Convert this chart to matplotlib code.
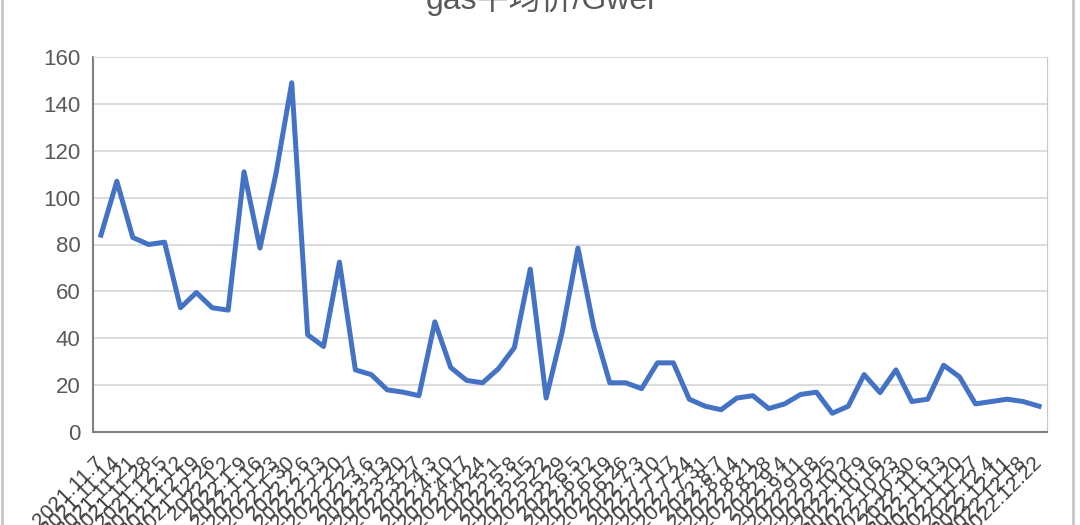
import matplotlib
matplotlib.use('Agg')
from matplotlib import pyplot as plt
from matplotlib.lines import Line2D

plt.rcParams['font.family'] = ['Liberation Sans', 'Noto Sans CJK SC', 'DejaVu Sans']

# 周数据 gas 价格
dates = ['2021.11.7', '2021.11.14', '2021.11.21', '2021.11.28', '2021.12.5',
         '2021.12.12', '2021.12.19', '2021.12.26', '2022.1.2', '2022.1.9',
         '2022.1.16', '2022.1.23', '2022.1.30', '2022.2.6', '2022.2.13',
         '2022.2.20', '2022.2.27', '2022.3.6', '2022.3.13', '2022.3.20',
         '2022.3.27', '2022.4.3', '2022.4.10', '2022.4.17', '2022.4.24',
         '2022.5.1', '2022.5.8', '2022.5.15', '2022.5.22', '2022.5.29',
         '2022.6.5', '2022.6.12', '2022.6.19', '2022.6.26', '2022.7.3',
         '2022.7.10', '2022.7.17', '2022.7.24', '2022.7.31', '2022.8.7',
         '2022.8.14', '2022.8.21', '2022.8.28', '2022.9.4', '2022.9.11',
         '2022.9.18', '2022.9.25', '2022.10.2', '2022.10.9', '2022.10.16',
         '2022.10.23', '2022.10.30', '2022.11.6', '2022.11.13', '2022.11.20',
         '2022.11.27', '2022.12.4', '2022.12.11', '2022.12.18', '2022.12.22']
gas = [84, 107, 83, 80, 81, 53, 59.5, 53, 52, 111,
       78.5, 110, 149, 41.5, 36.5, 72.5, 26.5, 24.5, 18, 17,
       15.5, 47, 27.5, 22, 21, 27, 36, 69.5, 14.5, 42.5,
       78.5, 44.5, 21, 21, 18.5, 29.5, 29.5, 14, 11, 9.5,
       14.5, 15.5, 10, 12, 16, 17, 8, 11, 24.5, 16.8,
       26.5, 13, 14, 28.5, 23.5, 12, 13, 14, 13, 11]
title = 'gas平均价/Gwei'

fig = plt.figure(figsize=(10.8, 5.25), dpi=100)
ax = fig.add_axes([93 / 1080, 1 - 432 / 525, (1047 - 93) / 1080, (432 - 57) / 525])

x = list(range(len(gas)))
ax.plot(x, gas, color='#4472C4', linewidth=3.6, solid_joinstyle='round')

ax.set_xlim(-0.5, len(gas) - 0.5)
ax.set_ylim(0, 160)
ax.set_yticks(range(0, 161, 20))
ax.yaxis.grid(True, color='#d9d9d9', linewidth=1.3)
ax.set_axisbelow(True)

ax.set_xticks(x)
ax.set_xticklabels(dates, rotation=45, ha='right', va='center',
                   rotation_mode='anchor', fontsize=15, color='#404040')
ax.tick_params(axis='x', length=0, pad=20)
ax.tick_params(axis='y', length=0, pad=9, labelsize=16, labelcolor='#595959')

ax.spines['left'].set_color('#7f7f7f')
ax.spines['bottom'].set_color('#7f7f7f')
ax.spines['left'].set_linewidth(1.5)
ax.spines['bottom'].set_linewidth(1.5)
ax.spines['right'].set_color('#c8c8c8')
ax.spines['top'].set_color('#d9d9d9')

fig.text(0.5, 1 - 9 / 525, title, ha='center', va='baseline',
         fontsize=23, color='#595959')

# 图表外框
for px in (2, 1073):
    fig.add_artist(Line2D([px / 1080, px / 1080], [0, 1], color='#c8c8c8',
                          linewidth=2, transform=fig.transFigure))

fig.savefig('out.png', dpi=100)
